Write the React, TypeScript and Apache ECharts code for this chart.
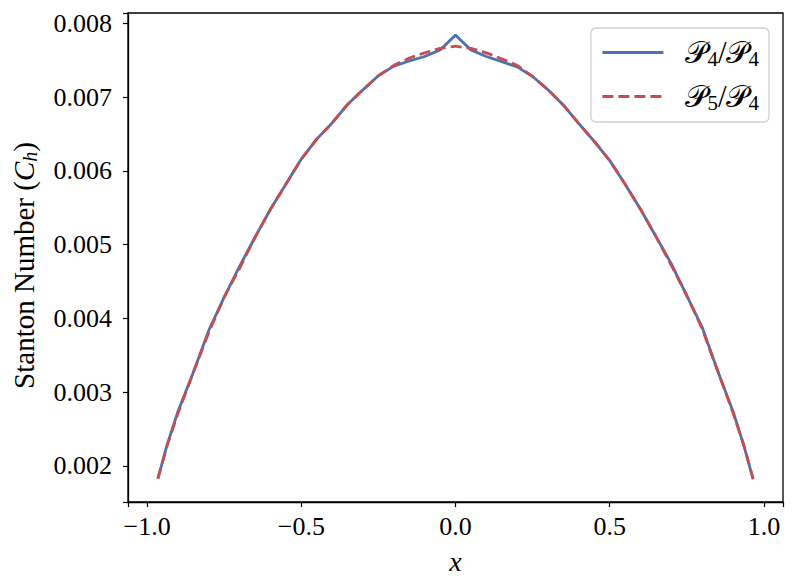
import React, { useEffect, useRef } from "react";
import * as echarts from "echarts";

const xValues = [
  -0.965, -0.935, -0.9, -0.85, -0.8, -0.75, -0.7, -0.65, -0.6, -0.55, -0.5, -0.45, -0.4, -0.35, -0.3,
  -0.25, -0.2, -0.15, -0.1, -0.05, 0, 0.05, 0.1, 0.15, 0.2, 0.25, 0.3, 0.35, 0.4, 0.45, 0.5, 0.55,
  0.6, 0.65, 0.7, 0.75, 0.8, 0.85, 0.9, 0.935, 0.965,
];

const p4Values = [
  0.00183, 0.00229, 0.00274, 0.00327, 0.00384, 0.00429, 0.00471, 0.0051, 0.00548, 0.00582, 0.00616,
  0.00643, 0.00665, 0.0069, 0.0071, 0.00729, 0.00742, 0.00749, 0.00755, 0.00764, 0.00784, 0.00764,
  0.00755, 0.00748, 0.00741, 0.00728, 0.0071, 0.00689, 0.00664, 0.0064, 0.00614, 0.00582, 0.00548,
  0.00511, 0.00474, 0.00431, 0.00388, 0.00329, 0.00274, 0.00228, 0.00182,
];

const p5Values = [
  0.00183, 0.00228, 0.00271, 0.00327, 0.00381, 0.00429, 0.00468, 0.0051, 0.00548, 0.00582, 0.00616,
  0.00643, 0.00665, 0.0069, 0.0071, 0.00729, 0.00743, 0.00753, 0.0076, 0.00766, 0.00769, 0.00766,
  0.0076, 0.00752, 0.00743, 0.00728, 0.0071, 0.00689, 0.00664, 0.0064, 0.00614, 0.00582, 0.00548,
  0.00511, 0.00472, 0.00431, 0.00386, 0.00329, 0.00272, 0.00228, 0.00183,
];

const xTicks = [-1.0, -0.5, 0.0, 0.5, 1.0];
const yTicks = [0.002, 0.003, 0.004, 0.005, 0.006, 0.007, 0.008];

const seriesNames = ["P4/P4", "P5/P4"];

const FONT = "'Liberation Serif', 'DejaVu Serif', serif";

export default function App() {
  const ref = useRef<HTMLDivElement>(null);
  useEffect(() => {
    if (!ref.current) return;
    const chart = echarts.init(ref.current, undefined, { renderer: "svg" });
    const p4 = xValues.map((x, i) => [x, p4Values[i]]);
    const p5 = xValues.map((x, i) => [x, p5Values[i]]);
    const richLegend = {
      p: { fontFamily: FONT, fontSize: 31, color: "#000", lineHeight: 32 },
      s: { fontFamily: FONT, fontSize: 21, color: "#000", verticalAlign: "bottom", padding: [12, 0, 0, 0] },
      n: { fontFamily: FONT, fontSize: 31, color: "#000", lineHeight: 32 },
    };
    chart.setOption({
      animation: false,
      backgroundColor: "#fff",
      grid: {
        left: 128,
        right: 14,
        top: 13,
        bottom: 86,
        show: true,
        borderColor: "#000",
        borderWidth: 1.3,
        outerBoundsMode: "none",
      },
      legend: {
        orient: "vertical",
        right: 28,
        top: 28,
        padding: [9, 10, 9, 10],
        itemWidth: 61,
        itemHeight: 14,
        itemGap: 12,
        borderColor: "#d0d0d0",
        borderWidth: 1.3,
        borderRadius: 5,
        backgroundColor: "rgba(255,255,255,0.8)",
        itemStyle: { opacity: 0 },
        lineStyle: { width: 3 },
        data: seriesNames,
        formatter: (name: string) => {
          const parts = name.split("/");
          const a = parts[0].slice(1);
          const b = parts[1].slice(1);
          return `{p|𝒫}{s|${a}}{n|/}{p|𝒫}{s|${b}}`;
        },
        textStyle: {
          fontFamily: FONT,
          fontSize: 31,
          padding: [0, 0, 0, 17],
          rich: richLegend,
        },
      },
      xAxis: {
        type: "value",
        min: -1.062,
        max: 1.062,
        splitNumber: 4,
        name: "x",
        nameLocation: "middle",
        nameGap: 45,
        nameTextStyle: { fontFamily: FONT, fontSize: 28, fontStyle: "italic", color: "#000" },
        axisLine: { show: true, onZero: false, lineStyle: { color: "#000", width: 1.3 } },
        splitLine: { show: false },
        axisTick: { show: true, length: 5, lineStyle: { color: "#000", width: 1.2 } },
        axisLabel: {
          customValues: xTicks,
          margin: 11,
          fontFamily: FONT,
          fontSize: 26,
          color: "#000",
          formatter: (v: number) => (v < 0 ? "\u2212" + Math.abs(v).toFixed(1) : v.toFixed(1)),
        },
      },
      yAxis: {
        type: "value",
        min: 0.001512,
        max: 0.00814,
        splitNumber: 6,
        name: "Stanton Number ({i|C}{s|h})",
        nameLocation: "middle",
        nameGap: 88,
        nameRotate: 90,
        nameTextStyle: {
          fontFamily: FONT,
          fontSize: 29,
          color: "#000",
          padding: [0, 16, 0, 0],
          rich: {
            i: { fontFamily: FONT, fontSize: 29, fontStyle: "italic", color: "#000", lineHeight: 30 },
            s: { fontFamily: FONT, fontSize: 20, fontStyle: "italic", color: "#000", verticalAlign: "bottom", padding: [12, 0, 0, 0] },
          },
        },
        axisLine: { show: true, onZero: false, lineStyle: { color: "#000", width: 1.3 } },
        splitLine: { show: false },
        axisTick: { show: true, length: 5, lineStyle: { color: "#000", width: 1.2 } },
        axisLabel: {
          customValues: yTicks,
          margin: 16,
          fontFamily: FONT,
          fontSize: 26,
          color: "#000",
          formatter: (v: number) => v.toFixed(3),
        },
      },
      series: [
        {
          name: seriesNames[0],
          type: "line",
          data: p4,
          symbol: "none",
          lineStyle: { color: "#4c72b0", width: 2.8 },
          itemStyle: { color: "#4c72b0" },
          z: 2,
        },
        {
          name: seriesNames[1],
          type: "line",
          data: p5,
          symbol: "none",
          lineStyle: { color: "#c44e52", width: 2.8, type: [11, 5] },
          itemStyle: { color: "#c44e52" },
          z: 3,
        },
      ],
    });
    return () => chart.dispose();
  }, []);
  return <div ref={ref} style={{ position: "absolute", left: 0, top: 0, width: 797, height: 588 }} />;
}
